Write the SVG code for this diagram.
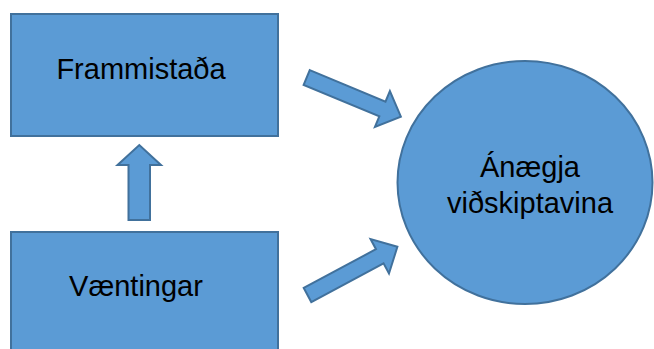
<svg xmlns="http://www.w3.org/2000/svg" width="654" height="349" viewBox="0 0 654 349">
  <style>
    .shape { fill: #5B9BD5; stroke: #41719C; stroke-width: 2; }
    .label { font-family: "Liberation Sans", Arial, sans-serif; font-size: 29px; fill: #000; text-anchor: middle; }
  </style>
  <defs>
    <!-- block arrow pointing along +x, tail at origin -->
    <polygon id="blockArrow" points="0,-8 82,-8 82,-19.5 102,0 82,19.5 82,8 0,8"/>
  </defs>
  <rect width="654" height="349" fill="#fff"/>

  <g id="frammistada">
    <rect class="shape" x="11" y="14" width="267" height="122"/>
    <text class="label" x="141" y="79">Frammistaða</text>
  </g>

  <g id="vaentingar">
    <rect class="shape" x="11" y="232" width="267" height="130"/>
    <text class="label" x="136" y="296">Væntingar</text>
  </g>

  <g id="anaegja">
    <ellipse class="shape" cx="525" cy="182.5" rx="127.5" ry="121.5"/>
    <text class="label" x="530" y="177">Ánægja</text>
    <text class="label" x="530" y="213">viðskiptavina</text>
  </g>

  <g id="connectors">
    <polygon class="shape" points="128.5,220 128.5,165 117.5,165 139.3,145 161,165 150,165 150,220"/>
    <use href="#blockArrow" class="shape" transform="translate(306.7,77.5) rotate(22.6)"/>
    <use href="#blockArrow" class="shape" transform="translate(307.5,295) rotate(-28.2)"/>
  </g>
</svg>
